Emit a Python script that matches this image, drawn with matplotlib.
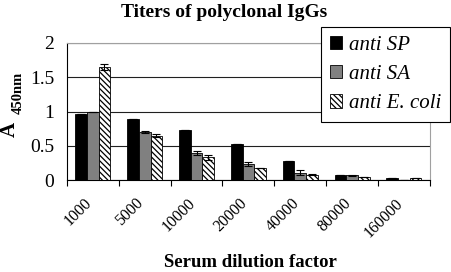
import matplotlib.pyplot as plt
import matplotlib.transforms as mtransforms
import numpy as np

plt.rcParams['font.family'] = 'Liberation Serif'
plt.rcParams['hatch.linewidth'] = 0.9

# data
dilutions = ['1000', '5000', '10000', '20000', '40000', '80000', '160000']
anti_sp = [0.96, 0.89, 0.73, 0.52, 0.28, 0.07, 0.03]
anti_sa = [1.00, 0.70, 0.40, 0.23, 0.11, 0.07, 0.00]
anti_ecoli = [1.65, 0.65, 0.33, 0.17, 0.08, 0.05, 0.03]
err_sp = [0.0, 0.0, 0.0, 0.0, 0.0, 0.0, 0.0]
err_sa = [0.0, 0.01, 0.03, 0.03, 0.04, 0.01, 0.0]
err_ecoli = [0.04, 0.02, 0.04, 0.0, 0.01, 0.0, 0.0]

fig = plt.figure(figsize=(4.52, 2.72), dpi=100)
ax = fig.add_axes([0.148, 0.338, 0.803, 0.504])

x = np.arange(len(dilutions))
w = 0.225
ekw = dict(ecolor='black', elinewidth=0.8, capsize=3, capthick=0.8)
ax.bar(x - w, anti_sp, w, color='black', edgecolor='black', linewidth=0.6,
       yerr=err_sp, error_kw=ekw, label='anti SP', zorder=3)
ax.bar(x, anti_sa, w, color='#808080', edgecolor='black', linewidth=0.6,
       yerr=err_sa, error_kw=ekw, label='anti SA', zorder=3)
ax.bar(x + w, anti_ecoli, w, color='white', edgecolor='black', linewidth=0.6,
       hatch='\\' * 6, yerr=err_ecoli, error_kw=ekw, label='anti E. coli', zorder=3)

ax.set_xlim(-0.5, len(dilutions) - 0.5)
ax.set_ylim(0, 2)
ax.set_yticks([0, 0.5, 1, 1.5, 2])
ax.set_yticklabels(['0', '0.5', '1', '1.5', '2'], fontsize=14)
ax.yaxis.grid(True, color='#202020', linewidth=0.8, zorder=0)
ax.tick_params(axis='y', length=0, pad=9)

ax.set_xticks(np.arange(len(dilutions) + 1) - 0.5)
ax.set_xticklabels([])
ax.set_xticks(x, minor=True)
ax.set_xticklabels(dilutions, minor=True, rotation=45, ha='right', va='top',
                   rotation_mode='anchor', fontsize=11.5)
ax.tick_params(axis='x', which='major', direction='out', length=4, width=0.8)
ax.tick_params(axis='x', which='minor', length=0, pad=11)
shift = mtransforms.ScaledTranslation(-9 / 100, 0, fig.dpi_scale_trans)
for lab in ax.get_xticklabels(minor=True):
    lab.set_transform(lab.get_transform() + shift)

ax.spines['top'].set_color('#a0a0a0')
ax.spines['right'].set_color('#a0a0a0')
ax.spines['left'].set_linewidth(0.8)
ax.spines['bottom'].set_linewidth(0.8)

# y label: "A" with a subscript "450nm"
fig.text(0.0, 1 - 129 / 272, 'A', rotation=90, ha='left', va='center',
         fontsize=15, fontweight='bold')
fig.text(18.5 / 452, 1 - 93 / 272, '450nm', rotation=90, ha='center',
         va='center', fontsize=10.5, fontweight='bold')

fig.text(0.495, 0.955, 'Titers of polyclonal IgGs', ha='center', va='center',
         fontsize=14, fontweight='bold')
fig.text(0.553, 0.035, 'Serum dilution factor', ha='center', va='center',
         fontsize=13.5, fontweight='bold')

leg = fig.legend(loc='upper right', bbox_to_anchor=(0.995, 0.9),
                 prop={'style': 'italic', 'size': 15}, frameon=True,
                 fancybox=False, edgecolor='black', framealpha=1,
                 handlelength=0.6, handleheight=0.6, handletextpad=0.33,
                 labelspacing=0.5, borderpad=0.4, borderaxespad=0)
leg.get_frame().set_linewidth(0.8)

fig.savefig('out.png', dpi=100)
